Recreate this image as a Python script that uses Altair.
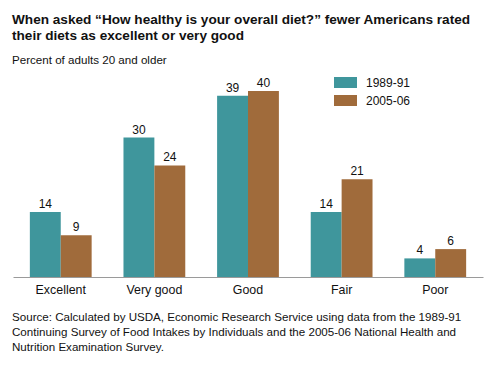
import altair as alt
import pandas as pd

categories = ["Excellent", "Very good", "Good", "Fair", "Poor"]
periods = ["1989-91", "2005-06"]
values_1989 = [14, 30, 39, 14, 4]
values_2005 = [9, 24, 40, 21, 6]

title_lines = [
    "When asked \u201cHow healthy is your overall diet?\u201d fewer Americans rated",
    "their diets as excellent or very good",
]
subtitle = "Percent of adults 20 and older"
source_lines = [
    "Source: Calculated by USDA, Economic Research Service using data from the 1989-91",
    "Continuing Survey of Food Intakes by Individuals and the 2005-06 National Health and",
    "Nutrition Examination Survey.",
]

rows = []
for c, a, b in zip(categories, values_1989, values_2005):
    rows.append({"category": c, "period": periods[0], "value": a})
    rows.append({"category": c, "period": periods[1], "value": b})
df = pd.DataFrame(rows)

FONT = "Liberation Sans"
colors = ["#3f969c", "#a06b3b"]

x_enc = alt.X("category:N", sort=categories,
              scale=alt.Scale(paddingInner=0.34, paddingOuter=0.18),
              axis=alt.Axis(title=None, labelAngle=0, ticks=False, domainColor="#9a9a9a",
                            labelFont=FONT, labelFontSize=12.4, labelColor="#111",
                            labelPadding=6))
xo_enc = alt.XOffset("period:N", sort=periods, scale=alt.Scale(paddingInner=0))
y_enc = alt.Y("value:Q", scale=alt.Scale(domain=[0, 40], nice=False), axis=None)

bars = alt.Chart(df).mark_bar().encode(
    x=x_enc, xOffset=xo_enc, y=y_enc,
    color=alt.Color("period:N", sort=periods,
                    scale=alt.Scale(domain=periods, range=colors),
                    legend=alt.Legend(title=None, orient="none", legendX=321, legendY=-20,
                                      symbolType="M-1,-0.48H1V0.48H-1Z", symbolSize=529,
                                      symbolStrokeWidth=0, symbolOpacity=1,
                                      labelFont=FONT, labelFontSize=12, labelColor="#111",
                                      labelOffset=9, rowPadding=-3, padding=0)),
)

labels = alt.Chart(df).mark_text(baseline="alphabetic", dy=-4, font=FONT, fontSize=12,
                                 color="#111").encode(
    x=alt.X("category:N", sort=categories), xOffset=alt.XOffset("period:N", sort=periods),
    y=alt.Y("value:Q"), text=alt.Text("value:Q"),
)

title_df = pd.DataFrame({"t": [title_lines]})
title = alt.Chart(title_df).mark_text(align="left", baseline="top", font=FONT, fontSize=13.6,
                                      fontWeight="bold", color="#111", lineHeight=16).encode(
    x=alt.value(-1), y=alt.value(-78), text="t:N")

sub_df = pd.DataFrame({"t": [subtitle]})
sub = alt.Chart(sub_df).mark_text(align="left", baseline="top", font=FONT, fontSize=11.6,
                                  color="#111").encode(
    x=alt.value(-1), y=alt.value(-36), text="t:N")

src_df = pd.DataFrame({"t": [source_lines]})
src = alt.Chart(src_df).mark_text(align="left", baseline="top", font=FONT, fontSize=11.6,
                                  color="#111", lineHeight=14.8).encode(
    x=alt.value(-1), y=alt.value(221), text="t:N")

chart = alt.layer(bars, labels, title, sub, src).properties(
    width=470, height=186,
    autosize=alt.AutoSizeParams(type="none"),
    padding={"left": 5, "top": 83, "right": 9, "bottom": 80},
).configure(background="white", view=alt.ViewConfig(stroke=None))

chart.save("out.html", embed_options={"renderer": "svg", "actions": False})
